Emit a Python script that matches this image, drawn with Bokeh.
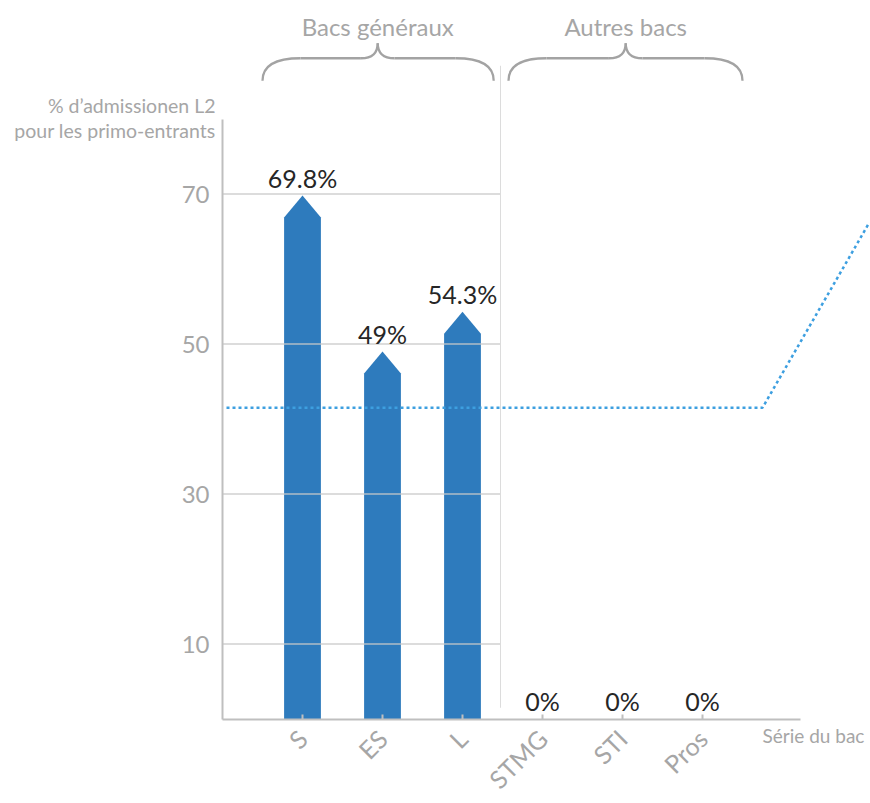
import math
from bokeh.plotting import figure
from bokeh.models import Range1d, FixedTicker, ColumnDataSource
from bokeh.core.properties import value
from bokeh.embed import file_html
from bokeh.resources import INLINE

# ---- data ----
categories = ["S", "ES", "L", "STMG", "STI", "Pros"]
positions = [1, 2, 3, 4, 5, 6]
admission = [69.8, 49.0, 54.3, 0.0, 0.0, 0.0]
value_labels = ["69.8%", "49%", "54.3%", "0%", "0%", "0%"]
y_ticks = [10, 30, 50, 70]

# dotted reference line
ref_x = [0.05, 6.75, 8.08]
ref_y = [41.5, 41.5, 66.1]

# group braces
group_names = ["Bacs généraux", "Autres bacs"]
group_start = [0.5, 3.575]
group_end = [3.39, 6.5]
group_mid = [1.94, 5.04]
divider_x = 3.475
axis_end = 7.225
y_axis_top = 80

y_title = ["% d’admissionen L2", "pour les primo-entrants"]
y_title_pos = [81.8, 78.5]
x_title = "Série du bac"

FONT = "Lato"
GREY_TXT = "#a6a6a6"
AXIS_GREY = "#bfbfbf"
BAR = "#2e7bbd"

W, H = 870, 800
PX_X, PX_Y = 80.0, 7.5      # pixels per data unit
X0_PX, Y0_PX = 222.0, 718.5  # page position of data origin

p = figure(width=W, height=H, output_backend="svg", toolbar_location=None,
           x_range=Range1d(-X0_PX / PX_X, (W - X0_PX) / PX_X),
           y_range=Range1d(-(H - Y0_PX) / PX_Y, Y0_PX / PX_Y),
           min_border=0, min_border_left=0, min_border_right=0,
           min_border_top=0, min_border_bottom=0)
p.outline_line_color = None
p.xgrid.visible = False
p.ygrid.visible = False
p.background_fill_color = "white"
p.border_fill_color = "white"

# ---- arrow-shaped bars ----
hw = 0.23
head = 2.93
xs, ys = [], []
for c, v in zip(positions, admission):
    if v > 0:
        xs.append([c - hw, c - hw, c, c + hw, c + hw])
        ys.append([0, v - head, v, v - head, 0])
p.patches(xs, ys, fill_color=BAR, line_color=None)

# ---- gridlines (in front of bars, only over first group) ----
p.segment(x0=[0] * len(y_ticks), y0=y_ticks, x1=[divider_x] * len(y_ticks), y1=y_ticks,
          line_color="#c8c8c8", line_width=1.3, line_alpha=0.85)

# divider
p.segment(x0=[divider_x], y0=[1.5], x1=[divider_x], y1=[87.1],
          line_color="#dcdcdc", line_width=1)

# dotted reference line
p.line(ref_x, ref_y, line_color="#3d9fe0", line_width=2.5, line_dash="3 3")

# value labels
src = ColumnDataSource(dict(x=positions, y=admission, t=value_labels))
p.text(x="x", y="y", text="t", source=src, text_align="center",
       text_baseline="bottom", y_offset=-3, text_font=value(FONT),
       text_font_size="25px", text_color="#262626")

# ---- braces ----
yb, ym, yt = 85.1, 88.1, 90.1
rL, rC = 0.475, 0.21
for s, e, m in zip(group_start, group_end, group_mid):
    p.quadratic(x0=[s, e, m - rC, m + rC], y0=[yb, yb, ym, ym],
                x1=[s + rL, e - rL, m, m], y1=[ym, ym, yt, yt],
                cx=[s, e, m, m], cy=[ym, ym, ym, ym],
                line_color="#a3a3a3", line_width=2.3)
    p.segment(x0=[s + rL, m + rC], y0=[ym, ym], x1=[m - rC, e - rL], y1=[ym, ym],
              line_color="#a3a3a3", line_width=2.3)
p.text(x=group_mid, y=[92.4, 92.4], text=group_names, text_align="center",
       text_baseline="middle", text_font=value(FONT), text_font_size="24px",
       text_color=GREY_TXT)

# axis titles
p.text(x=[0, 0], y=y_title_pos, text=y_title, x_offset=-7, text_align="right",
       text_baseline="middle", text_font=value(FONT), text_font_size="19.5px",
       text_color=GREY_TXT)
p.text(x=[6.75], y=[-2.2], text=[x_title], text_align="left",
       text_baseline="middle", text_font=value(FONT), text_font_size="19px",
       text_color=GREY_TXT)

# ---- axes (fixed at the data origin) ----
xa = p.xaxis[0]
xa.fixed_location = 0
xa.ticker = FixedTicker(ticks=positions)
xa.major_label_overrides = {pos: lab for pos, lab in zip(positions, categories)}
xa.major_label_orientation = math.pi / 4
xa.bounds = (0, axis_end)
xa.axis_line_color = AXIS_GREY
xa.axis_line_width = 2
xa.major_tick_in = 5
xa.major_tick_out = 0
xa.major_tick_line_color = AXIS_GREY
xa.major_tick_line_width = 2
xa.minor_tick_line_color = None
xa.major_label_text_font = FONT
xa.major_label_text_font_size = "25px"
xa.major_label_text_color = GREY_TXT
xa.major_label_standoff = 15

ya = p.yaxis[0]
ya.fixed_location = 0
ya.ticker = FixedTicker(ticks=y_ticks)
ya.bounds = (0, y_axis_top)
ya.axis_line_color = AXIS_GREY
ya.axis_line_width = 2
ya.major_tick_in = 0
ya.major_tick_out = 0
ya.minor_tick_line_color = None
ya.major_label_text_font = FONT
ya.major_label_text_font_size = "24px"
ya.major_label_text_color = GREY_TXT
ya.major_label_standoff = 13

open("out.html", "w").write(file_html(p, INLINE))
